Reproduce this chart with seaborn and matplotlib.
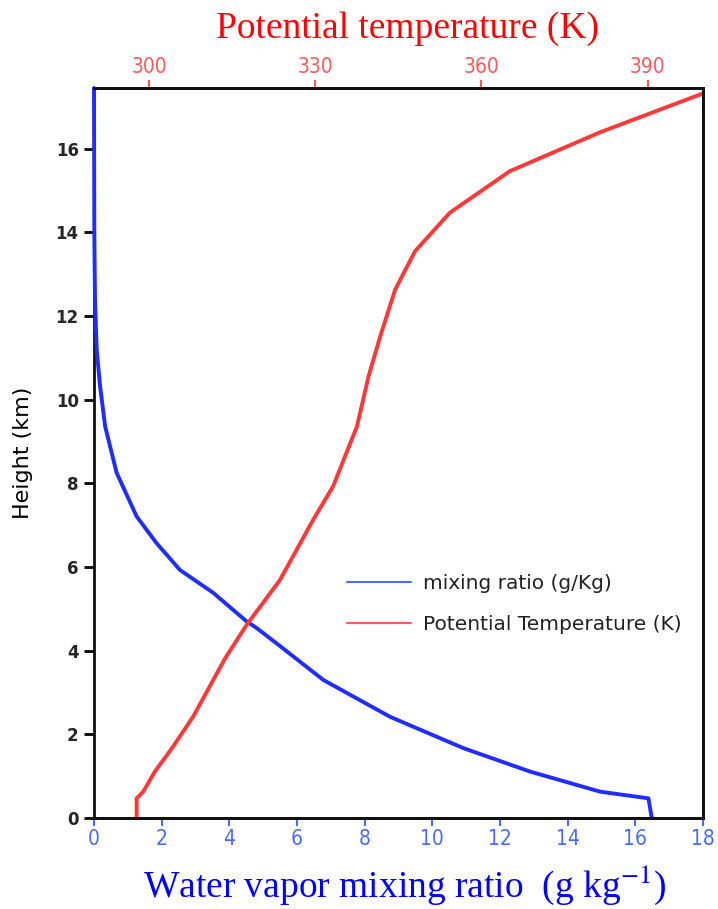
import numpy as np
import pandas as pd
import matplotlib
matplotlib.use("Agg")
import matplotlib.pyplot as plt
import seaborn as sns

# === Данные ===
# водяной пар (г/кг) по высоте (км)
mix_height = [0.0, 0.03, 0.47, 0.63, 1.11, 1.67, 2.42, 3.30, 4.11, 4.54, 4.70,
              5.38, 5.93, 6.57, 7.21, 8.25, 9.36, 10.32, 11.2, 12.39, 14.0, 17.45]
mix_ratio = [16.50, 16.48, 16.39, 14.96, 12.89, 10.92, 8.75, 6.78, 5.50, 4.81, 4.51,
             3.53, 2.54, 1.85, 1.26, 0.67, 0.33, 0.18, 0.08, 0.03, 0.01, 0.0]

# потенциальная температура (K) по высоте (км)
theta_height = [0.0, 0.47, 0.63, 1.11, 1.71, 2.42, 3.82, 4.62, 5.69, 7.13, 7.93,
                9.36, 10.56, 11.51, 12.63, 13.55, 14.47, 15.46, 15.98, 16.39, 17.32]
theta = [297.7, 297.7, 298.9, 301.0, 304.3, 307.9, 313.7, 317.6, 323.6, 329.6, 333.2,
         337.5, 339.6, 341.7, 344.4, 348.0, 354.3, 365.1, 374.2, 381.4, 400.0]

bottom_ticks = list(range(0, 19, 2))
top_ticks = [300, 330, 360, 390]
height_ticks = list(range(0, 17, 2))

mix_df = pd.DataFrame({"q": mix_ratio, "z": mix_height})
theta_df = pd.DataFrame({"theta": theta, "z": theta_height})

sns.set_style("ticks")
plt.rcParams["font.family"] = ["DejaVu Sans"]

fig = plt.figure(figsize=(7.18, 9.09), dpi=100)
ax = fig.add_axes([0.1309, 0.1001, 0.8481, 0.8031])
ax2 = ax.twiny()

blue_line = "#1f2dff"
red_line = "#ff3838"
serif = ["Liberation Serif", "DejaVu Serif"]

sns.lineplot(data=mix_df, x="q", y="z", ax=ax, sort=False, estimator=None,
             orient="y", color=blue_line, linewidth=2.8)
sns.lineplot(data=theta_df, x="theta", y="z", ax=ax2, sort=False, estimator=None,
             orient="y", color=red_line, linewidth=2.8)
# синяя линия поверх левой оси, как в оригинале
ax.lines[0].set_zorder(3)
ax.lines[0].set_clip_on(False)

ax.set_xlim(0, 18)
ax.set_ylim(0, 17.45)
ax2.set_xlim(290, 400)
ax2.set_ylim(0, 17.45)

ax.set_xticks(bottom_ticks)
ax.set_yticks(height_ticks)
ax2.set_xticks(top_ticks)
ax.set_xlabel("")
ax.set_ylabel("Height (km)", fontsize=16, color="black", labelpad=16)
ax2.set_xlabel("")
ax2.set_ylabel("")

# оси
for a in (ax, ax2):
    for sp in a.spines.values():
        sp.set_linewidth(2.0)
        sp.set_color("#111111")
        sp.set_visible(True)
ax2.spines["left"].set_visible(False)

ax.tick_params(axis="y", direction="out", length=7, width=2, color="black",
               labelsize=12, pad=4)
for lab in ax.get_yticklabels():
    lab.set_fontweight("bold")

ax.tick_params(axis="x", direction="out", length=6, width=1.5, color="#4a6bff",
               labelcolor="#4a6bff", labelsize=15, pad=2)
for lab in ax.get_xticklabels():
    lab.set_fontstretch("condensed")

ax2.tick_params(axis="x", direction="out", length=6, width=1.5, color="#ff5a5a",
                labelcolor="#ff5a5a", labelsize=15, pad=2)
for lab in ax2.get_xticklabels():
    lab.set_fontstretch("condensed")

# легенда
handles = [ax.lines[0], ax2.lines[0]]
leg = ax2.legend(handles, ["mixing ratio (g/Kg)", "Potential Temperature (K)"],
                 loc="upper left", bbox_to_anchor=(0.402, 0.345), frameon=False,
                 fontsize=14.5, handlelength=3.2, handletextpad=0.6, labelspacing=1.1,
                 borderaxespad=0)
for lh, c in zip(leg.get_lines(), ["#4a6bff", "#ff5a5a"]):
    lh.set_linewidth(1.5)
    lh.set_color(c)
for t in leg.get_texts():
    t.set_color("#222222")

# подписи осей
fig.text(407 / 718, 1 - 29 / 909, "Potential temperature (K)", color="#ff0000",
         fontsize=27, family=serif, ha="center", va="center")
fig.text(405 / 718, 1 - 885 / 909, r"Water vapor mixing ratio  (g kg$^{-1}$)",
         color="#0000ff", fontsize=27, family=serif, ha="center", va="center",
         math_fontfamily="stix")

fig.savefig("out.png", dpi=100, facecolor="white")
